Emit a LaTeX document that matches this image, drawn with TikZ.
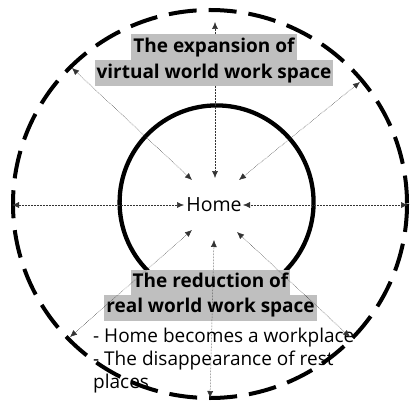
\documentclass[tikz,border=0pt]{standalone}
\usepackage{fontspec}
\setmainfont{Open Sans}
\usetikzlibrary{arrows.meta}
\begin{document}
\begin{tikzpicture}[x=1pt,y=-1pt,
  conn/.style={densely dotted, line width=0.5pt, draw=black!80,
    {Latex[length=7pt,width=6pt]}-{Latex[length=7pt,width=6pt]}},
  hl/.style={fill=black!25, inner xsep=2pt, inner ysep=3pt, text height=15pt, text depth=5pt,
    font=\fontsize{19}{22}\selectfont\bfseries},
  body/.style={anchor=base west, inner sep=0pt, font=\fontsize{19}{22}\selectfont}]
\useasboundingbox (0,0) rectangle (411,403);
% outer dashed circle
\draw[line width=4pt, dash pattern=on 28pt off 12pt] (210,204) ellipse [x radius=197, y radius=194];
% inner circle (open at bottom)
\draw[line width=4.3pt] (148,271) arc[start angle=135, end angle=405, radius=97];
% texts
\node[font=\fontsize{19.5}{22}\selectfont, inner sep=1pt] (home) at (214,205) {Home};
\node[hl] (b1) at (210.5,282.5) {The reduction of};
\node[hl] (b2) at (210.5,307.5) {real world work space};
\node[body] (l1) at (93,342) {- Home becomes a workplace};
\node[body] (l2) at (93,365) {- The disappearance of rest};
\node[body] (l3) at (93,388) {places};
% arrow end points
\coordinate (oL) at (12,205);   \coordinate (iL) at (184,205);
\coordinate (oR) at (408,205);  \coordinate (iR) at (243,205);
\coordinate (oT) at (215,22);   \coordinate (iT) at (215,178);
\coordinate (oB) at (210,398);  \coordinate (iB) at (214,240);
\coordinate (oUL) at (72,68);   \coordinate (iUL) at (192,180);
\coordinate (oUR) at (360,82);  \coordinate (iUR) at (239,180);
\coordinate (oLL) at (70,337);  \coordinate (iLL) at (192,230);
\coordinate (oLR) at (350,337); \coordinate (iLR) at (237,232);
\foreach \a/\b in {oL/iL, oR/iR, oT/iT, oB/iB, oUL/iUL, oUR/iUR, oLL/iLL, oLR/iLR}
  \draw[conn] (\a) -- (\b);
% top title drawn over the vertical arrow
\node[hl] (t1) at (214,47.5) {The expansion of};
\node[hl] (t2) at (214,73.5) {virtual world work space};
\end{tikzpicture}
\end{document}
